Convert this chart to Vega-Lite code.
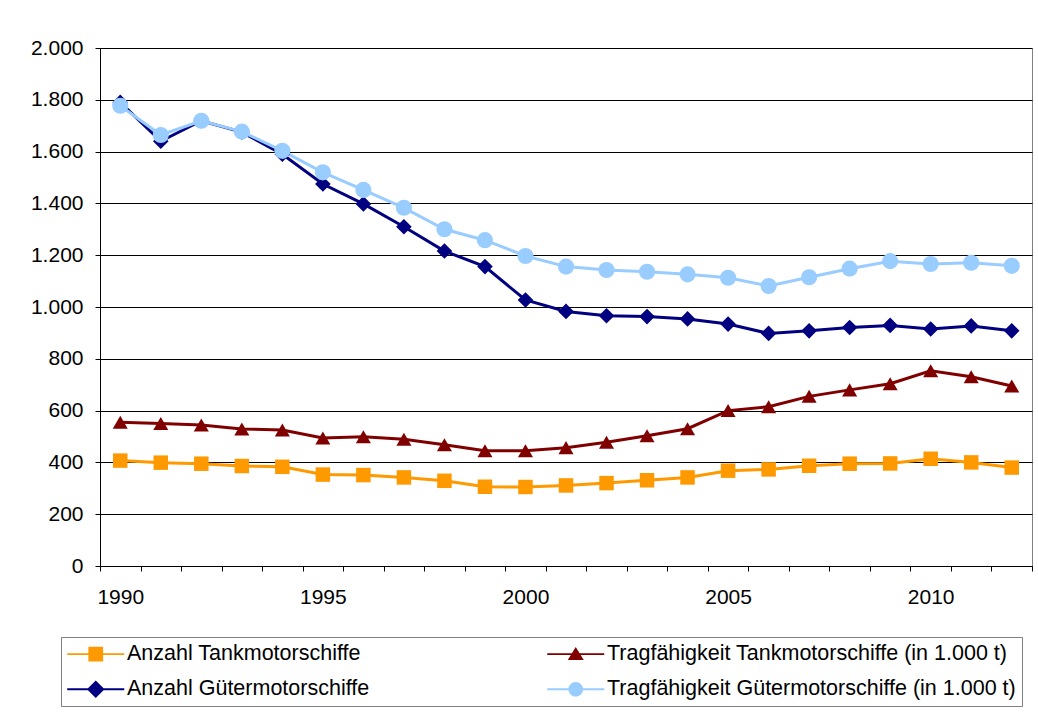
{
  "$schema": "https://vega.github.io/schema/vega-lite/v6.json",
  "width": 932,
  "height": 518,
  "autosize": {"type": "none"},
  "padding": {"left": 100, "top": 48, "right": 6, "bottom": 153},
  "background": "#ffffff",
  "config": {
    "font": "Liberation Sans",
    "view": {"stroke": "#808080", "strokeWidth": 1},
    "axis": {"labelFont": "Liberation Sans", "labelFontSize": 21, "labelColor": "#000000"}
  },
  "datasets": {
    "ships": [
      {"s": "Anzahl Tankmotorschiffe", "year": 1990, "v": 407},
      {"s": "Anzahl Tankmotorschiffe", "year": 1991, "v": 399},
      {"s": "Anzahl Tankmotorschiffe", "year": 1992, "v": 395},
      {"s": "Anzahl Tankmotorschiffe", "year": 1993, "v": 386},
      {"s": "Anzahl Tankmotorschiffe", "year": 1994, "v": 383},
      {"s": "Anzahl Tankmotorschiffe", "year": 1995, "v": 353},
      {"s": "Anzahl Tankmotorschiffe", "year": 1996, "v": 351},
      {"s": "Anzahl Tankmotorschiffe", "year": 1997, "v": 342},
      {"s": "Anzahl Tankmotorschiffe", "year": 1998, "v": 329},
      {"s": "Anzahl Tankmotorschiffe", "year": 1999, "v": 306},
      {"s": "Anzahl Tankmotorschiffe", "year": 2000, "v": 305},
      {"s": "Anzahl Tankmotorschiffe", "year": 2001, "v": 311},
      {"s": "Anzahl Tankmotorschiffe", "year": 2002, "v": 320},
      {"s": "Anzahl Tankmotorschiffe", "year": 2003, "v": 331},
      {"s": "Anzahl Tankmotorschiffe", "year": 2004, "v": 342},
      {"s": "Anzahl Tankmotorschiffe", "year": 2005, "v": 368},
      {"s": "Anzahl Tankmotorschiffe", "year": 2006, "v": 373},
      {"s": "Anzahl Tankmotorschiffe", "year": 2007, "v": 387},
      {"s": "Anzahl Tankmotorschiffe", "year": 2008, "v": 395},
      {"s": "Anzahl Tankmotorschiffe", "year": 2009, "v": 396},
      {"s": "Anzahl Tankmotorschiffe", "year": 2010, "v": 414},
      {"s": "Anzahl Tankmotorschiffe", "year": 2011, "v": 400},
      {"s": "Anzahl Tankmotorschiffe", "year": 2012, "v": 380},
      {"s": "Tragfähigkeit Tankmotorschiffe (in 1.000 t)", "year": 1990, "v": 555},
      {"s": "Tragfähigkeit Tankmotorschiffe (in 1.000 t)", "year": 1991, "v": 550},
      {"s": "Tragfähigkeit Tankmotorschiffe (in 1.000 t)", "year": 1992, "v": 544},
      {"s": "Tragfähigkeit Tankmotorschiffe (in 1.000 t)", "year": 1993, "v": 529},
      {"s": "Tragfähigkeit Tankmotorschiffe (in 1.000 t)", "year": 1994, "v": 525},
      {"s": "Tragfähigkeit Tankmotorschiffe (in 1.000 t)", "year": 1995, "v": 494},
      {"s": "Tragfähigkeit Tankmotorschiffe (in 1.000 t)", "year": 1996, "v": 499},
      {"s": "Tragfähigkeit Tankmotorschiffe (in 1.000 t)", "year": 1997, "v": 489},
      {"s": "Tragfähigkeit Tankmotorschiffe (in 1.000 t)", "year": 1998, "v": 468},
      {"s": "Tragfähigkeit Tankmotorschiffe (in 1.000 t)", "year": 1999, "v": 445},
      {"s": "Tragfähigkeit Tankmotorschiffe (in 1.000 t)", "year": 2000, "v": 445},
      {"s": "Tragfähigkeit Tankmotorschiffe (in 1.000 t)", "year": 2001, "v": 457},
      {"s": "Tragfähigkeit Tankmotorschiffe (in 1.000 t)", "year": 2002, "v": 478},
      {"s": "Tragfähigkeit Tankmotorschiffe (in 1.000 t)", "year": 2003, "v": 503},
      {"s": "Tragfähigkeit Tankmotorschiffe (in 1.000 t)", "year": 2004, "v": 530},
      {"s": "Tragfähigkeit Tankmotorschiffe (in 1.000 t)", "year": 2005, "v": 600},
      {"s": "Tragfähigkeit Tankmotorschiffe (in 1.000 t)", "year": 2006, "v": 615},
      {"s": "Tragfähigkeit Tankmotorschiffe (in 1.000 t)", "year": 2007, "v": 655},
      {"s": "Tragfähigkeit Tankmotorschiffe (in 1.000 t)", "year": 2008, "v": 680},
      {"s": "Tragfähigkeit Tankmotorschiffe (in 1.000 t)", "year": 2009, "v": 704},
      {"s": "Tragfähigkeit Tankmotorschiffe (in 1.000 t)", "year": 2010, "v": 754},
      {"s": "Tragfähigkeit Tankmotorschiffe (in 1.000 t)", "year": 2011, "v": 731},
      {"s": "Tragfähigkeit Tankmotorschiffe (in 1.000 t)", "year": 2012, "v": 695},
      {"s": "Anzahl Gütermotorschiffe", "year": 1990, "v": 1790},
      {"s": "Anzahl Gütermotorschiffe", "year": 1991, "v": 1640},
      {"s": "Anzahl Gütermotorschiffe", "year": 1992, "v": 1719},
      {"s": "Anzahl Gütermotorschiffe", "year": 1993, "v": 1675},
      {"s": "Anzahl Gütermotorschiffe", "year": 1994, "v": 1590},
      {"s": "Anzahl Gütermotorschiffe", "year": 1995, "v": 1475},
      {"s": "Anzahl Gütermotorschiffe", "year": 1996, "v": 1398},
      {"s": "Anzahl Gütermotorschiffe", "year": 1997, "v": 1310},
      {"s": "Anzahl Gütermotorschiffe", "year": 1998, "v": 1216},
      {"s": "Anzahl Gütermotorschiffe", "year": 1999, "v": 1156},
      {"s": "Anzahl Gütermotorschiffe", "year": 2000, "v": 1027},
      {"s": "Anzahl Gütermotorschiffe", "year": 2001, "v": 983},
      {"s": "Anzahl Gütermotorschiffe", "year": 2002, "v": 966},
      {"s": "Anzahl Gütermotorschiffe", "year": 2003, "v": 963},
      {"s": "Anzahl Gütermotorschiffe", "year": 2004, "v": 954},
      {"s": "Anzahl Gütermotorschiffe", "year": 2005, "v": 934},
      {"s": "Anzahl Gütermotorschiffe", "year": 2006, "v": 898},
      {"s": "Anzahl Gütermotorschiffe", "year": 2007, "v": 908},
      {"s": "Anzahl Gütermotorschiffe", "year": 2008, "v": 921},
      {"s": "Anzahl Gütermotorschiffe", "year": 2009, "v": 929},
      {"s": "Anzahl Gütermotorschiffe", "year": 2010, "v": 915},
      {"s": "Anzahl Gütermotorschiffe", "year": 2011, "v": 927},
      {"s": "Anzahl Gütermotorschiffe", "year": 2012, "v": 908},
      {"s": "Tragfähigkeit Gütermotorschiffe (in 1.000 t)", "year": 1990, "v": 1777},
      {"s": "Tragfähigkeit Gütermotorschiffe (in 1.000 t)", "year": 1991, "v": 1664},
      {"s": "Tragfähigkeit Gütermotorschiffe (in 1.000 t)", "year": 1992, "v": 1719},
      {"s": "Tragfähigkeit Gütermotorschiffe (in 1.000 t)", "year": 1993, "v": 1677},
      {"s": "Tragfähigkeit Gütermotorschiffe (in 1.000 t)", "year": 1994, "v": 1603},
      {"s": "Tragfähigkeit Gütermotorschiffe (in 1.000 t)", "year": 1995, "v": 1520},
      {"s": "Tragfähigkeit Gütermotorschiffe (in 1.000 t)", "year": 1996, "v": 1452},
      {"s": "Tragfähigkeit Gütermotorschiffe (in 1.000 t)", "year": 1997, "v": 1383},
      {"s": "Tragfähigkeit Gütermotorschiffe (in 1.000 t)", "year": 1998, "v": 1300},
      {"s": "Tragfähigkeit Gütermotorschiffe (in 1.000 t)", "year": 1999, "v": 1258},
      {"s": "Tragfähigkeit Gütermotorschiffe (in 1.000 t)", "year": 2000, "v": 1197},
      {"s": "Tragfähigkeit Gütermotorschiffe (in 1.000 t)", "year": 2001, "v": 1156},
      {"s": "Tragfähigkeit Gütermotorschiffe (in 1.000 t)", "year": 2002, "v": 1143},
      {"s": "Tragfähigkeit Gütermotorschiffe (in 1.000 t)", "year": 2003, "v": 1136},
      {"s": "Tragfähigkeit Gütermotorschiffe (in 1.000 t)", "year": 2004, "v": 1126},
      {"s": "Tragfähigkeit Gütermotorschiffe (in 1.000 t)", "year": 2005, "v": 1113},
      {"s": "Tragfähigkeit Gütermotorschiffe (in 1.000 t)", "year": 2006, "v": 1081},
      {"s": "Tragfähigkeit Gütermotorschiffe (in 1.000 t)", "year": 2007, "v": 1115},
      {"s": "Tragfähigkeit Gütermotorschiffe (in 1.000 t)", "year": 2008, "v": 1148},
      {"s": "Tragfähigkeit Gütermotorschiffe (in 1.000 t)", "year": 2009, "v": 1177},
      {"s": "Tragfähigkeit Gütermotorschiffe (in 1.000 t)", "year": 2010, "v": 1166},
      {"s": "Tragfähigkeit Gütermotorschiffe (in 1.000 t)", "year": 2011, "v": 1171},
      {"s": "Tragfähigkeit Gütermotorschiffe (in 1.000 t)", "year": 2012, "v": 1159}
    ]
  },
  "data": {"name": "ships"},
  "encoding": {
    "x": {
      "field": "year",
      "type": "ordinal",
      "scale": {"type": "band", "paddingInner": 0, "paddingOuter": 0},
      "axis": {
        "title": null,
        "tickBand": "extent",
        "labelAngle": 0,
        "labelOverlap": false,
        "labelExpr": "datum.value % 5 === 0 ? '' + datum.value : ''",
        "domainColor": "#000000",
        "tickColor": "#000000",
        "tickSize": 5,
        "labelPadding": 15,
        "grid": false
      }
    },
    "y": {
      "field": "v",
      "type": "quantitative",
      "scale": {"domain": [0, 2000], "nice": false, "zero": true},
      "axis": {
        "title": null,
        "values": [0, 200, 400, 600, 800, 1000, 1200, 1400, 1600, 1800, 2000],
        "labelExpr": "replace(format(datum.value, ','), ',', '.')",
        "domainColor": "#000000",
        "tickColor": "#000000",
        "tickSize": 5,
        "labelPadding": 12,
        "grid": true,
        "gridColor": "#000000",
        "gridOpacity": 1,
        "gridWidth": 1
      }
    }
  },
  "resolve": {
    "scale": {"color": "independent", "shape": "independent", "size": "independent"},
    "legend": {"color": "independent", "shape": "independent", "size": "independent"}
  },
  "layer": [
    {
      "mark": {"type": "line", "strokeWidth": 3},
      "encoding": {
        "color": {
          "field": "s",
          "type": "nominal",
          "scale": {
            "domain": ["Anzahl Tankmotorschiffe", "Tragfähigkeit Tankmotorschiffe (in 1.000 t)", "Anzahl Gütermotorschiffe", "Tragfähigkeit Gütermotorschiffe (in 1.000 t)"],
            "range": ["#FF9900", "#800000", "#000080", "#99CCFF"]
          },
          "legend": null
        }
      }
    },
    {
      "mark": {"type": "point", "filled": true, "opacity": 1},
      "encoding": {
        "color": {
          "field": "s",
          "type": "nominal",
          "scale": {
            "domain": ["Anzahl Tankmotorschiffe", "Tragfähigkeit Tankmotorschiffe (in 1.000 t)", "Anzahl Gütermotorschiffe", "Tragfähigkeit Gütermotorschiffe (in 1.000 t)"],
            "range": ["#FF9900", "#800000", "#000080", "#99CCFF"]
          },
          "legend": null
        },
        "shape": {
          "field": "s",
          "type": "nominal",
          "scale": {
            "domain": ["Anzahl Tankmotorschiffe", "Tragfähigkeit Tankmotorschiffe (in 1.000 t)", "Anzahl Gütermotorschiffe", "Tragfähigkeit Gütermotorschiffe (in 1.000 t)"],
            "range": ["square", "triangle-up", "diamond", "circle"]
          },
          "legend": null
        },
        "size": {
          "field": "s",
          "type": "nominal",
          "scale": {
            "domain": ["Anzahl Tankmotorschiffe", "Tragfähigkeit Tankmotorschiffe (in 1.000 t)", "Anzahl Gütermotorschiffe", "Tragfähigkeit Gütermotorschiffe (in 1.000 t)"],
            "range": [210, 260, 240, 190]
          },
          "legend": null
        }
      }
    },
    {
      "transform": [{"filter": "datum.year < 0"}],
      "mark": {"type": "point", "filled": true, "opacity": 1},
      "encoding": {
        "color": {
          "field": "s",
          "type": "nominal",
          "scale": {
            "domain": ["Anzahl Tankmotorschiffe", "Tragfähigkeit Tankmotorschiffe (in 1.000 t)", "Anzahl Gütermotorschiffe", "Tragfähigkeit Gütermotorschiffe (in 1.000 t)"],
            "range": ["#FF9900", "#800000", "#000080", "#99CCFF"]
          },
          "legend": {
            "orient": "none",
            "legendX": -39,
            "legendY": 589,
            "direction": "horizontal",
            "columns": 2,
            "columnPadding": 177,
            "rowPadding": 12.5,
            "padding": 6,
            "strokeColor": "#808080",
            "fillColor": "#ffffff",
            "title": null,
            "labelFont": "Liberation Sans",
            "labelFontSize": 21.5,
            "labelColor": "#000000",
            "labelOffset": 20.5,
            "labelLimit": 0,
            "symbolSize": 441,
            "symbolOffset": 18,
            "symbolStrokeWidth": 0,
            "symbolOpacity": 1
          }
        },
        "shape": {
          "field": "s",
          "type": "nominal",
          "scale": {
            "domain": ["Anzahl Tankmotorschiffe", "Tragfähigkeit Tankmotorschiffe (in 1.000 t)", "Anzahl Gütermotorschiffe", "Tragfähigkeit Gütermotorschiffe (in 1.000 t)"],
            "range": [
              "M-2.714,-0.095H2.714V0.095H-2.714ZM-0.7,-0.7H0.7V0.7H-0.7Z",
              "M-2.714,-0.095H2.714V0.095H-2.714ZM0,-0.67L0.76,0.57H-0.76Z",
              "M-2.714,-0.095H2.714V0.095H-2.714ZM0,-0.84L0.84,0L0,0.84L-0.84,0Z",
              "M-2.714,-0.095H2.714V0.095H-2.714ZM-0.7,0A0.7,0.7,0,1,1,0.7,0A0.7,0.7,0,1,1,-0.7,0Z"
            ]
          },
          "legend": {
            "orient": "none",
            "legendX": -39,
            "legendY": 589,
            "direction": "horizontal",
            "columns": 2,
            "columnPadding": 177,
            "rowPadding": 12.5,
            "padding": 6,
            "strokeColor": "#808080",
            "fillColor": "#ffffff",
            "title": null,
            "labelFont": "Liberation Sans",
            "labelFontSize": 21.5,
            "labelColor": "#000000",
            "labelOffset": 20.5,
            "labelLimit": 0,
            "symbolSize": 441,
            "symbolOffset": 18,
            "symbolStrokeWidth": 0,
            "symbolOpacity": 1
          }
        }
      }
    }
  ]
}
